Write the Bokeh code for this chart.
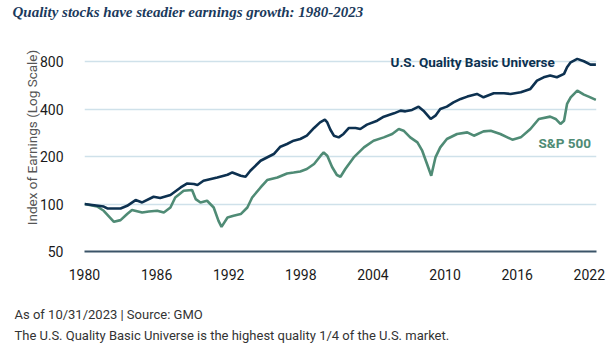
from bokeh.plotting import figure
from bokeh.models import (FixedTicker, NumeralTickFormatter, Label, Range1d, Title)
from bokeh.embed import file_html
from bokeh.resources import INLINE

# ---- data ----
title_text = "Quality stocks have steadier earnings growth: 1980-2023"
y_axis_title = "Index of Earnings (Log Scale)"
footer_1 = "As of 10/31/2023 | Source: GMO"
footer_2 = "The U.S. Quality Basic Universe is the highest quality 1/4 of the U.S. market."
series_names = ["U.S. Quality Basic Universe", "S&P 500"]

x_ticks = [1980, 1986, 1992, 1998, 2004, 2010, 2016, 2022]
y_ticks = [50, 100, 200, 400, 800]

quality_year = [1980.0, 1981.6, 1981.9, 1983.0, 1983.55, 1984.25, 1984.8, 1985.75, 1986.3, 1987.15,
                1988.0, 1988.55, 1989.1, 1989.4, 1989.9, 1991.05, 1991.9, 1992.3, 1993.0, 1993.4,
                1993.8, 1994.65, 1995.75, 1996.3, 1996.85, 1997.4, 1997.95, 1998.5, 1999.1, 1999.6,
                2000.0, 2000.2, 2000.45, 2000.75, 2001.15, 2001.55, 2002.0, 2002.55, 2002.95, 2003.5,
                2004.35, 2004.9, 2005.75, 2006.3, 2006.7, 2007.25, 2007.8, 2008.2, 2008.8, 2009.2,
                2009.6, 2010.15, 2010.7, 2011.3, 2011.85, 2012.65, 2013.2, 2014.05, 2014.9, 2015.45,
                2016.3, 2017.1, 2017.65, 2018.2, 2018.75, 2019.3, 2019.9, 2020.15, 2020.45, 2021.0,
                2021.55, 2022.1, 2022.55]
quality_index = [100, 96.5, 93.8, 93.8, 97.5, 106.0, 102.4, 111.3, 109.2, 114.1,
                 127.5, 135.2, 134.0, 132.1, 140.6, 147.6, 153.6, 158.8, 151.4, 149.2,
                 162.8, 188.5, 207.9, 231.4, 240.7, 252.6, 259.0, 271.7, 304.2, 330.2,
                 343.5, 330.0, 297.6, 271.7, 265.2, 278.6, 304.2, 304.2, 299.8, 319.3,
                 338.5, 359.0, 376.7, 391.9, 387.9, 395.9, 415.5, 391.9, 347.0, 364.2,
                 401.7, 415.5, 442.5, 465.2, 481.1, 500.4, 476.1, 504.9, 504.9, 500.4,
                 512.3, 538.5, 607.9, 638.1, 654.2, 638.1, 670.6, 738.6, 794.5, 835.2,
                 806.6, 768.4, 768.4]

sp_year = [1980.0, 1981.05, 1981.6, 1982.45, 1983.0, 1983.55, 1983.95, 1984.8, 1985.35, 1986.05,
           1986.6, 1987.15, 1987.55, 1988.25, 1988.95, 1989.25, 1989.65, 1990.2, 1990.75, 1991.15,
           1991.4, 1991.9, 1992.4, 1993.0, 1993.55, 1993.95, 1994.65, 1995.2, 1996.05, 1996.85,
           1997.4, 1997.95, 1998.5, 1999.1, 1999.65, 1999.9, 2000.2, 2000.6, 2001.0, 2001.3,
           2001.7, 2002.4, 2003.25, 2004.05, 2004.9, 2005.6, 2006.15, 2006.55, 2007.1, 2007.7,
           2008.1, 2008.5, 2008.85, 2009.2, 2009.6, 2010.15, 2011.0, 2011.85, 2012.4, 2013.2,
           2013.8, 2014.6, 2015.6, 2016.3, 2017.1, 2017.8, 2018.75, 2019.2, 2019.6, 2019.9,
           2020.15, 2020.45, 2021.0, 2021.55, 2021.95, 2022.55]
sp_index = [100, 96.5, 90.7, 77.2, 79.1, 86.4, 91.6, 88.4, 89.7, 90.7,
            88.4, 95.1, 110.1, 121.5, 122.8, 107.6, 102.4, 105.0, 95.1, 78.3,
            71.7, 82.2, 84.2, 86.4, 95.1, 110.1, 127.5, 142.1, 147.6, 156.5,
            158.8, 161.2, 166.9, 179.6, 202.8, 212.8, 202.8, 172.0, 153.0, 149.2,
            166.9, 197.8, 229.0, 252.6, 265.2, 278.6, 299.8, 292.4, 265.2, 246.4,
            218.2, 179.6, 151.4, 197.8, 229.0, 259.0, 278.6, 285.3, 271.7, 289.4,
            292.4, 278.6, 256.3, 265.2, 299.8, 347.0, 359.0, 347.0, 322.6, 338.5,
            432.2, 476.1, 525.2, 495.3, 481.1, 458.3]

# ---- style ----
NAVY = "#0d3150"
GREEN = "#4f8b75"
GRID = "#cfe1ea"
SANS = "Roboto"
FRAME_LEFT = 84

p = figure(width=613, height=352, output_backend="svg", toolbar_location=None,
           y_axis_type="log", x_range=Range1d(1980, 2022.6), y_range=Range1d(50, 1401),
           min_border_left=FRAME_LEFT, min_border_right=17, min_border_top=23, min_border_bottom=101)
p.outline_line_color = None
p.background_fill_color = "white"
p.border_fill_color = "white"

p.xgrid.visible = False
p.ygrid.ticker = FixedTicker(ticks=y_ticks[1:])
p.ygrid.grid_line_color = GRID
p.ygrid.grid_line_width = 1.5

xa = p.xaxis[0]
xa.ticker = FixedTicker(ticks=x_ticks)
xa.axis_line_color = "#3b5468"
xa.axis_line_width = 2
xa.major_tick_line_color = None
xa.minor_tick_line_color = None
xa.major_label_text_font = SANS
xa.major_label_text_font_size = "14px"
xa.major_label_text_color = "#1a1a1a"
xa.major_label_standoff = 11
# invisible spacer label that pushes the footer notes down
xa.axis_label = " "
xa.axis_label_text_font_size = "10px"
xa.axis_label_standoff = 7

ya = p.yaxis[0]
ya.ticker = FixedTicker(ticks=y_ticks)
ya.formatter = NumeralTickFormatter(format="0")
ya.axis_line_color = None
ya.major_tick_line_color = None
ya.minor_tick_line_color = None
ya.major_label_text_font = SANS
ya.major_label_text_font_size = "14px"
ya.major_label_text_color = "#1a1a1a"
ya.major_label_standoff = 15
ya.axis_label = y_axis_title
ya.axis_label_text_font = SANS
ya.axis_label_text_font_style = "normal"
ya.axis_label_text_font_size = "13.5px"
ya.axis_label_text_color = "#555555"
ya.axis_label_standoff = -3

p.line(sp_year, sp_index, line_color=GREEN, line_width=2.6)
p.line(quality_year, quality_index, line_color=NAVY, line_width=2.6)

# series labels
p.add_layout(Label(x=2005.46, y=795, text=series_names[0], text_font=SANS, text_font_style="bold",
                   text_font_size="13.5px", text_color=NAVY, text_baseline="middle"))
p.add_layout(Label(x=2017.77, y=246, text=series_names[1], text_font=SANS, text_font_style="bold",
                   text_font_size="13.5px", text_color=GREEN, text_baseline="middle"))

# title (above) and footers (below)
p.title.text = title_text
p.title.align = "left"
p.title.vertical_align = "middle"
p.title.offset = 12 - FRAME_LEFT
p.title.text_font = "Liberation Serif"
p.title.text_font_style = "bold italic"
p.title.text_font_size = "15px"
p.title.text_color = "#1b3a5c"
p.title.standoff = 5

p.add_layout(Title(text=footer_1, align="left", vertical_align="middle", offset=14 - FRAME_LEFT,
                   text_font=SANS, text_font_style="normal", text_font_size="13px",
                   text_color="#333333", standoff=4), "below")
p.add_layout(Title(text=footer_2, align="left", vertical_align="middle", offset=14 - FRAME_LEFT,
                   text_font=SANS, text_font_style="normal", text_font_size="13px",
                   text_color="#333333", standoff=4), "below")

open("out.html", "w").write(file_html(p, INLINE))
